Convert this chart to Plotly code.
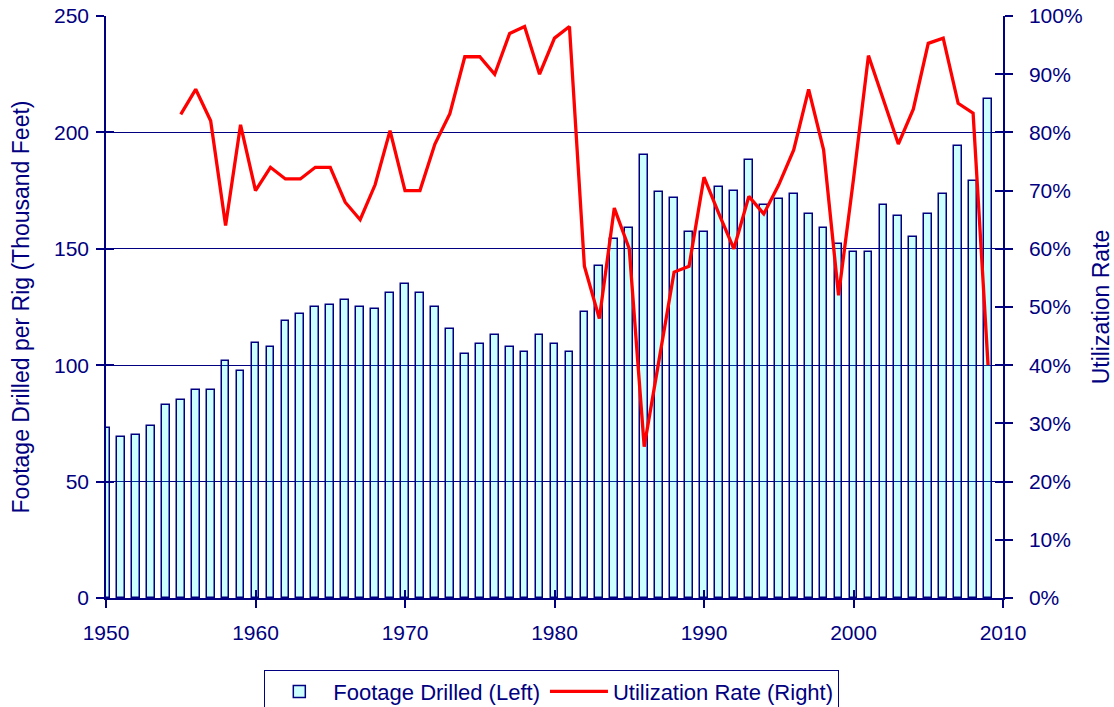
import plotly.graph_objects as go

years = list(range(1950, 2010))
footage = [73, 69, 70, 74, 83, 85, 89.5, 89.5, 102, 97.5,
           109.5, 108, 119, 122, 125, 126, 128, 125, 124, 131,
           135, 131, 125, 115.7, 105, 109, 112.8, 108, 105.8, 112.8,
           109, 105.8, 122.7, 142.7, 154.2, 158.8, 190.3, 174.2, 172, 157.3,
           157.3, 176.6, 175, 188, 168.8, 171.2, 173.4, 165.1, 159, 151.9,
           148.8, 148.8, 169, 164.2, 155.2, 165.1, 173.4, 194.3, 179, 214.5]

util_years = list(range(1955, 2010))
utilization = [83.1, 87.4, 82, 64, 81.3,
               70, 74, 72, 72, 74, 74, 68, 65, 71, 80.3,
               70, 70, 78, 83.2, 93, 93, 90, 97, 98.2, 90,
               96.2, 98.2, 57, 48, 67, 60, 26, 41, 56, 57,
               72.3, 66, 60, 69, 66, 71, 77, 87.4, 77, 52,
               72, 93.2, 85.6, 78, 84, 95.3, 96.2, 85, 83.3, 40]

x_ticks = [1950, 1960, 1970, 1980, 1990, 2000, 2010]
left_ticks = [0, 50, 100, 150, 200, 250]
right_ticks = list(range(0, 101, 10))
right_labels = [f"{v}%" for v in right_ticks]

NAVY = "#000080"
FONT = "Liberation Sans, Arial, sans-serif"

fig = go.Figure()
fig.add_trace(go.Bar(
    x=years, y=footage, name="Footage Drilled (Left)",
    width=0.52,
    marker=dict(color="rgba(0,255,255,0.2)", line=dict(color=NAVY, width=1.5)),
    xaxis="x", yaxis="y",
))
fig.add_trace(go.Scatter(
    x=util_years, y=utilization, name="Utilization Rate (Right)",
    mode="lines", line=dict(color="#FF0000", width=3.3),
    xaxis="x", yaxis="y2",
))
# invisible helpers so overlay axes (inside half of crossing ticks) are drawn
fig.add_trace(go.Scatter(x=[None], y=[None], xaxis="x2", yaxis="y3",
                         showlegend=False, hoverinfo="skip"))
fig.add_trace(go.Scatter(x=[None], y=[None], xaxis="x2", yaxis="y4",
                         showlegend=False, hoverinfo="skip"))

tickfont = dict(family=FONT, size=21, color=NAVY)
titlefont = dict(family=FONT, size=23, color=NAVY)
fig.update_layout(
    width=1114, height=707,
    margin=dict(l=106, r=111, t=16, b=109, autoexpand=False),
    paper_bgcolor="white", plot_bgcolor="white",
    font=dict(family=FONT, color=NAVY),
    bargap=0,
    showlegend=True,
    legend=dict(orientation="h", x=0.497, xanchor="center", y=-0.123, yanchor="top",
                bordercolor=NAVY, borderwidth=1, bgcolor="white",
                font=dict(family=FONT, size=22, color=NAVY),
                itemwidth=58, tracegroupgap=0),
    xaxis=dict(range=[1950, 2010], tickvals=x_ticks, ticks="outside", ticklen=8,
               tickcolor=NAVY, tickwidth=1.5, showgrid=False, zeroline=False,
               showline=True, linecolor=NAVY, linewidth=1.5, tickfont=tickfont,
               automargin=False, ticklabelstandoff=7, ticklabeloverflow="allow"),
    yaxis=dict(range=[0, 250], tickvals=left_ticks, ticks="outside", ticklen=8,
               tickcolor=NAVY, tickwidth=1.5, showgrid=True, gridcolor=NAVY,
               gridwidth=1.3, zeroline=False, showline=True, linecolor=NAVY,
               linewidth=1.5, tickfont=tickfont, automargin=False, ticklabelstandoff=3,
               ticklabeloverflow="allow",
               title=dict(text="Footage Drilled per Rig (Thousand Feet)",
                          font=titlefont, standoff=18)),
    yaxis2=dict(range=[0, 100], tickvals=right_ticks, ticktext=right_labels,
                overlaying="y", side="right", ticks="outside", ticklen=8,
                tickcolor=NAVY, tickwidth=1.5, showgrid=False, zeroline=False,
                showline=True, linecolor=NAVY, linewidth=1.5, tickfont=tickfont,
                automargin=False, ticklabelstandoff=12, ticklabeloverflow="allow",
                title=dict(text="Utilization Rate", font=titlefont, standoff=11)),
    xaxis2=dict(range=[1950, 2010], tickvals=x_ticks, overlaying="x", anchor="y3",
                ticks="inside", ticklen=8, tickcolor=NAVY, tickwidth=1.5,
                showticklabels=False, showgrid=False, zeroline=False, showline=False,
                automargin=False),
    yaxis3=dict(range=[0, 250], tickvals=left_ticks, overlaying="y", side="left",
                anchor="x2", ticks="inside", ticklen=8, tickcolor=NAVY, tickwidth=1.5,
                showticklabels=False, showgrid=False, zeroline=False, showline=False,
                automargin=False),
    yaxis4=dict(range=[0, 100], tickvals=right_ticks, overlaying="y", side="right",
                anchor="x2", ticks="inside", ticklen=8, tickcolor=NAVY, tickwidth=1.5,
                showticklabels=False, showgrid=False, zeroline=False, showline=False,
                automargin=False),
)

# remove the default 8px page margin so the figure sits exactly in the window
fig.write_html("out.html",
               config={"displayModeBar": False},
               post_script="document.body.style.margin='0';document.body.style.overflow='hidden';")
